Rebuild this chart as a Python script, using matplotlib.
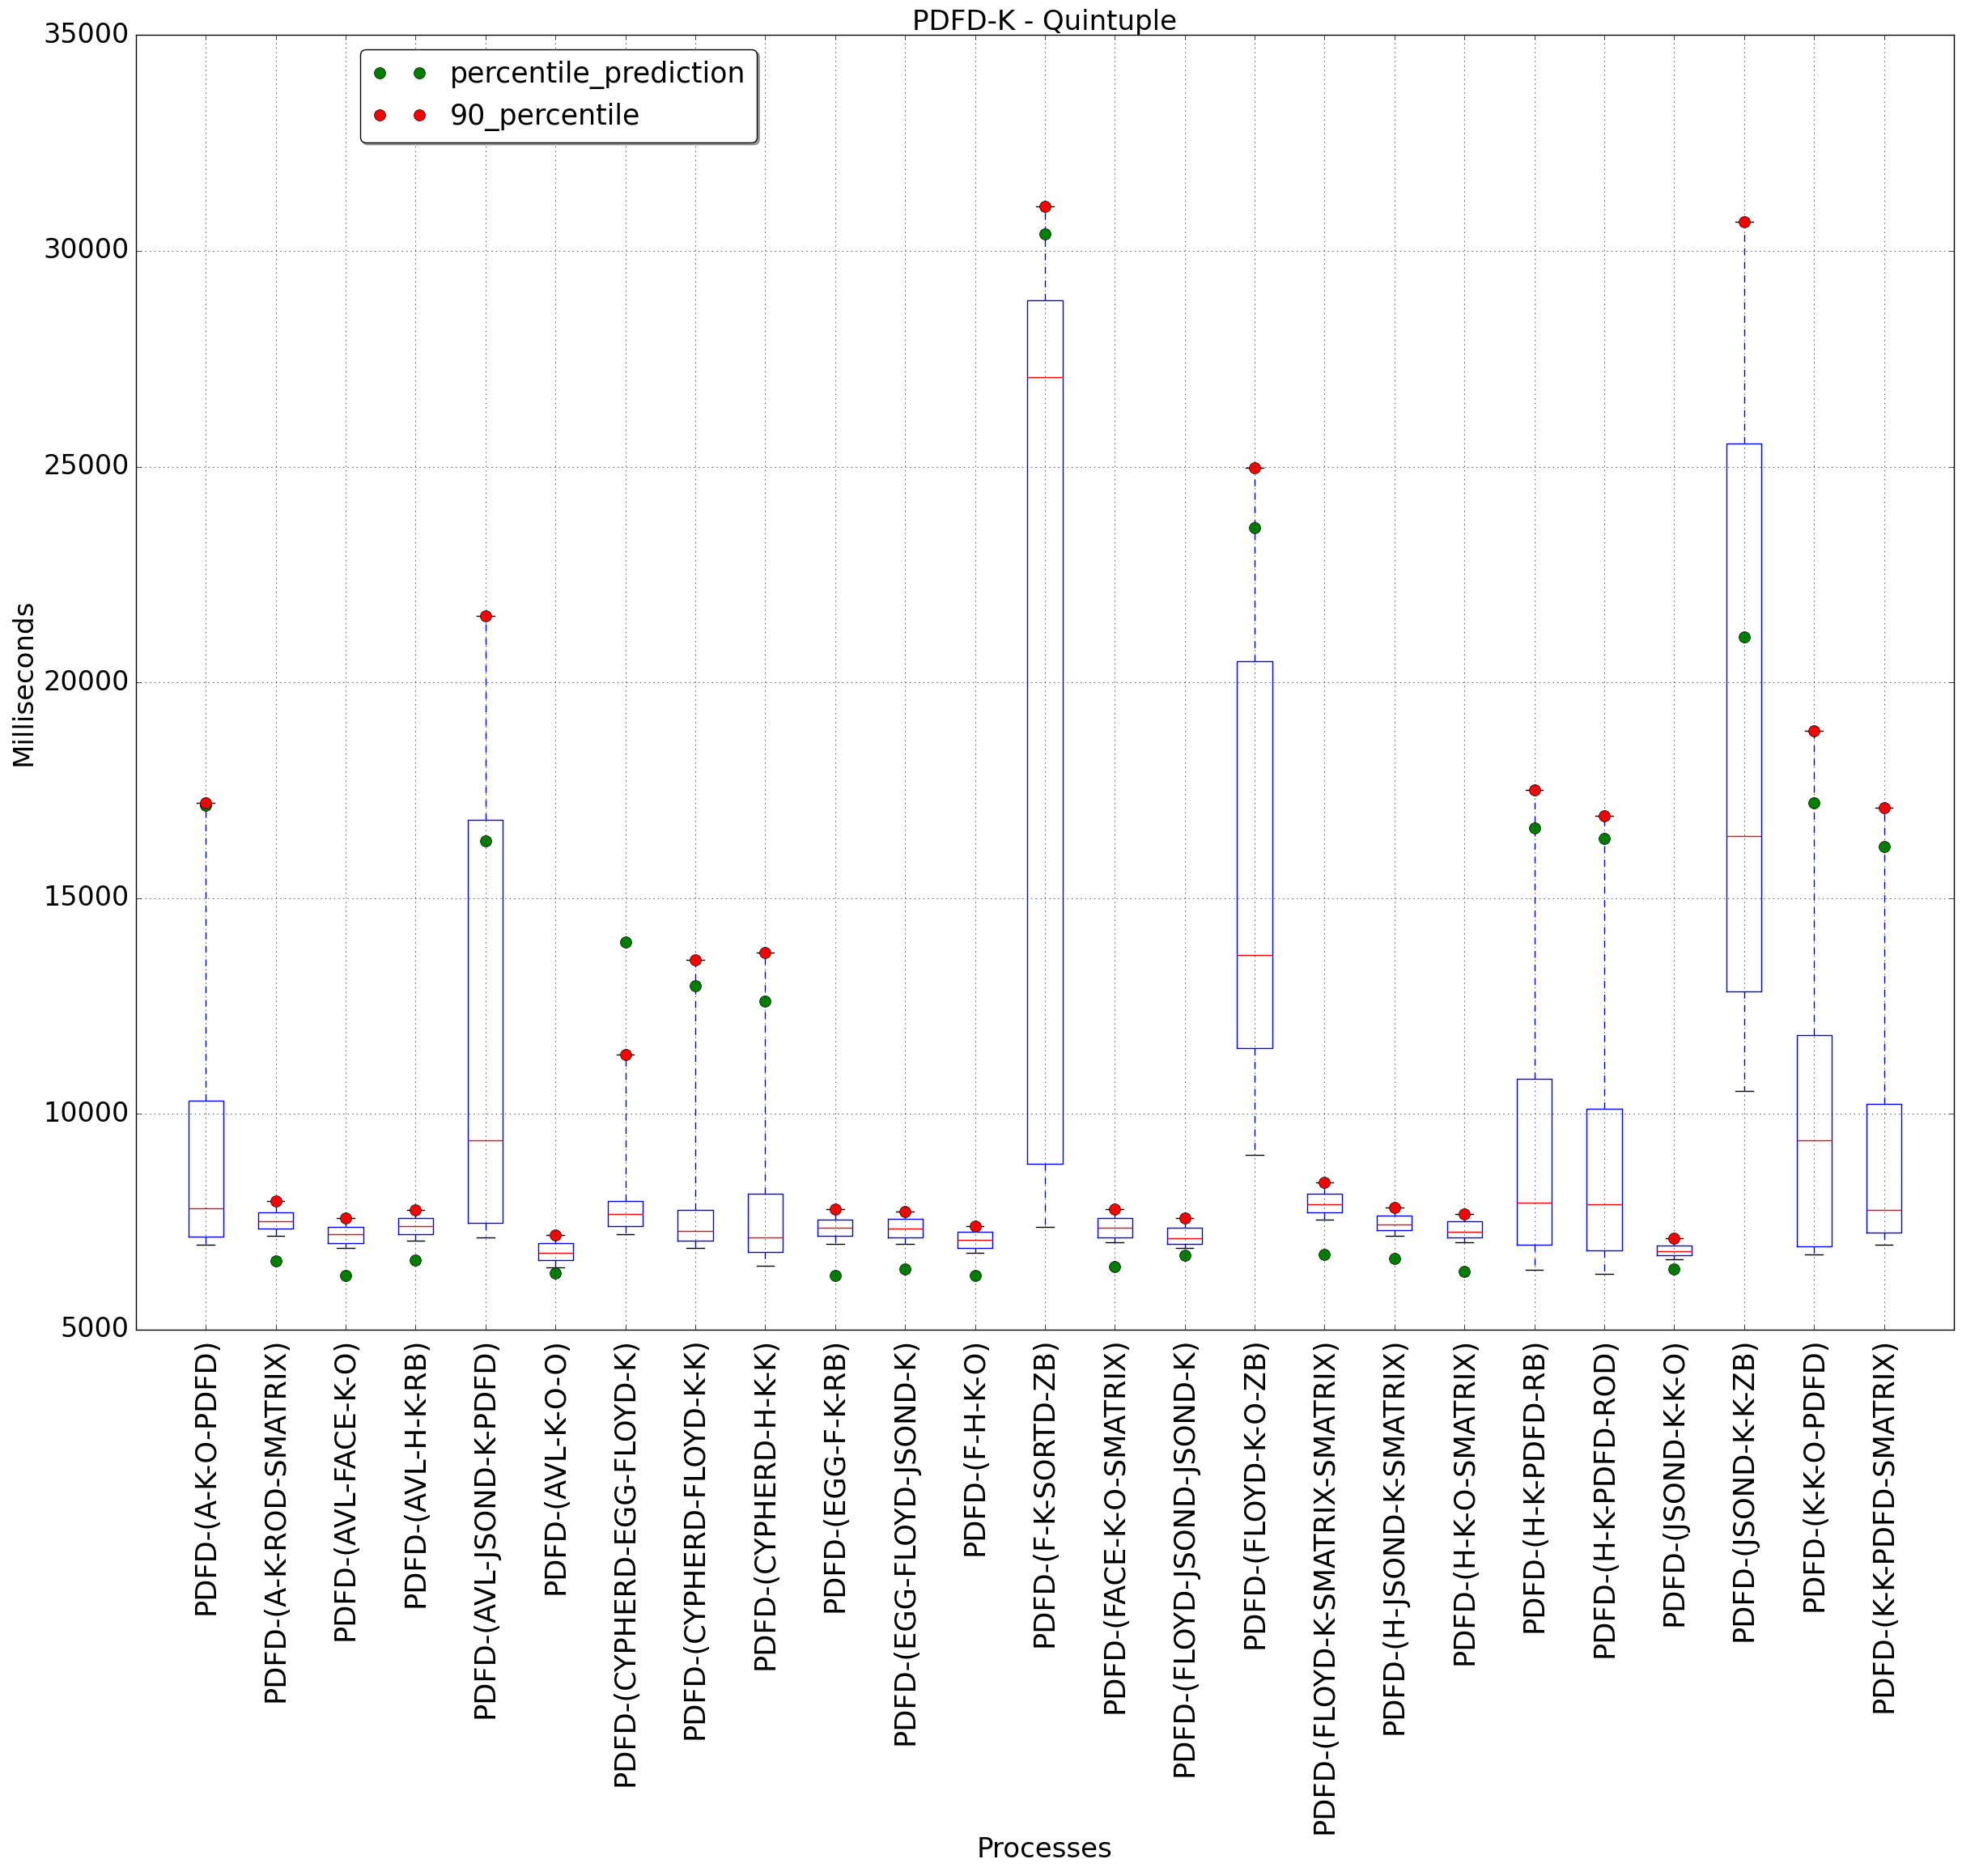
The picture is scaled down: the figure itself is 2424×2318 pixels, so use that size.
import matplotlib
matplotlib.use('Agg')
from matplotlib import pyplot as plt

# processes on the x axis
processes = [
    'PDFD-(A-K-O-PDFD)', 'PDFD-(A-K-ROD-SMATRIX)', 'PDFD-(AVL-FACE-K-O)',
    'PDFD-(AVL-H-K-RB)', 'PDFD-(AVL-JSOND-K-PDFD)', 'PDFD-(AVL-K-O-O)',
    'PDFD-(CYPHERD-EGG-FLOYD-K)', 'PDFD-(CYPHERD-FLOYD-K-K)', 'PDFD-(CYPHERD-H-K-K)',
    'PDFD-(EGG-F-K-RB)', 'PDFD-(EGG-FLOYD-JSOND-K)', 'PDFD-(F-H-K-O)',
    'PDFD-(F-K-SORTD-ZB)', 'PDFD-(FACE-K-O-SMATRIX)', 'PDFD-(FLOYD-JSOND-JSOND-K)',
    'PDFD-(FLOYD-K-O-ZB)', 'PDFD-(FLOYD-K-SMATRIX-SMATRIX)', 'PDFD-(H-JSOND-K-SMATRIX)',
    'PDFD-(H-K-O-SMATRIX)', 'PDFD-(H-K-PDFD-RB)', 'PDFD-(H-K-PDFD-ROD)',
    'PDFD-(JSOND-K-K-O)', 'PDFD-(JSOND-K-K-ZB)', 'PDFD-(K-K-O-PDFD)',
    'PDFD-(K-K-PDFD-SMATRIX)',
]

# box statistics (milliseconds)
whis_low = [6960, 7169, 6885, 7061, 7136, 6441, 7211, 6885, 6474, 6985, 6985, 6776, 7378,
            7018, 6901, 9050, 7546, 7169, 7018, 6382, 6290, 6625, 10527, 6743, 6973]
q1 = [7152, 7337, 7002, 7211, 7471, 6608, 7395, 7061, 6792, 7169, 7144, 6901, 8836,
      7144, 6993, 11524, 7714, 7303, 7144, 6960, 6834, 6717, 12839, 6935, 7250]
median = [7806, 7513, 7211, 7395, 9388, 6776, 7680, 7287, 7136, 7362, 7345, 7077, 27070,
          7354, 7127, 13680, 7915, 7446, 7278, 7940, 7915, 6826, 16440, 9387, 7777]
q3 = [10310, 7714, 7378, 7588, 16809, 7002, 7990, 7772, 8157, 7546, 7563, 7261, 28851,
      7580, 7354, 20500, 8157, 7638, 7504, 10812, 10117, 6943, 25543, 11820, 10230]

# 90th percentile (also the top whisker) and the predicted percentile
p90 = [17202, 7981, 7580, 7781, 21540, 7194, 11373, 13568, 13735, 7789, 7747, 7395, 31040,
       7789, 7596, 24981, 8409, 7839, 7680, 17512, 16909, 7111, 30679, 18870, 17088]
prediction = [17150, 6591, 6248, 6608, 16320, 6307, 13978, 12965, 12621, 6248, 6415, 6265, 30385,
              6457, 6734, 23591, 6751, 6658, 6348, 16625, 16382, 6415, 21045, 17203, 16197]

plt.style.use('classic')
plt.rcParams['font.size'] = 24

pos = list(range(1, len(processes) + 1))
stats = []
for i in range(len(processes)):
    stats.append({'whislo': whis_low[i], 'q1': q1[i], 'med': median[i],
                  'q3': q3[i], 'whishi': p90[i], 'label': processes[i]})

fig = plt.figure(figsize=(24.24, 23.18), dpi=100, facecolor='white')
ax = fig.add_axes([0.0692, 0.2912, 0.9267, 0.6901])

ax.bxp(stats, positions=pos, widths=0.5, showfliers=False, manage_ticks=False,
       boxprops=dict(color='b', linewidth=1.0),
       whiskerprops=dict(color='b', linestyle='--', linewidth=1.0),
       capprops=dict(color='k', linewidth=1.0),
       medianprops=dict(color='r', linewidth=1.0))

ax.plot(pos, prediction, 'o', color='g', mec='k', mew=0.5, ms=10, label='percentile_prediction')
ax.plot(pos, p90, 'o', color='r', mec='k', mew=0.5, ms=10, label='90_percentile')

ax.set_xlim(0, len(processes) + 1)
ax.set_ylim(5000, 35000)
ax.set_yticks(range(5000, 35001, 5000))
ax.set_xticks(pos)
ax.set_xticklabels(processes, rotation=90, fontsize=25.3)
ax.tick_params(axis='y', labelsize=24, pad=6)
ax.tick_params(axis='x', pad=7)
ax.grid(True)

ax.set_title('PDFD-K - Quintuple', fontsize=24.5, pad=4.75)
ax.set_xlabel('Processes', fontsize=24.5, labelpad=2)
ax.set_ylabel('Milliseconds', fontsize=24.5)

ax.legend(loc='upper left', bbox_to_anchor=(0.1234, 0.989), borderaxespad=0,
          numpoints=2, fancybox=True, shadow=True, fontsize=25)

fig.savefig('out.png', dpi=100, facecolor='white')
